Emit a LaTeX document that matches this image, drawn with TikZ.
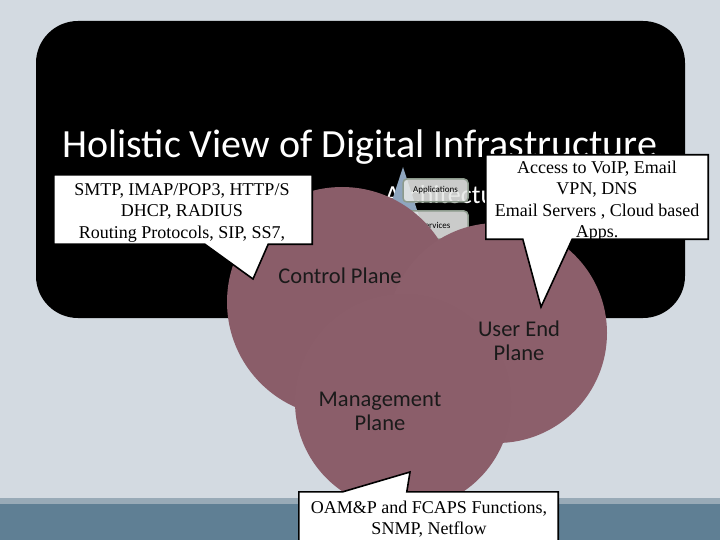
\documentclass[tikz,border=0pt]{standalone}
\usepackage{fontspec}
\setmainfont{Carlito}
\newfontfamily\tnr{Liberation Serif}
\definecolor{bgc}{HTML}{D3DAE1}
\definecolor{barc}{HTML}{5F7F94}
\definecolor{stripc}{HTML}{98AAB7}
\definecolor{cpc}{HTML}{8A5D69}
\definecolor{upc}{HTML}{8C5F6B}
\definecolor{mpc}{HTML}{8B5E6A}
\definecolor{tric}{HTML}{8FA6BF}
\definecolor{boxfill}{HTML}{E6E8E6}
\definecolor{boxdraw}{HTML}{8C9A8C}
\definecolor{lblc}{HTML}{1A1A1A}
\tikzset{
  plane/.style={circle, inner sep=0pt, minimum size=#1},
  lbl/.style={text=lblc, font=\fontsize{22.5}{23.5}\selectfont, align=center, inner sep=0pt},
  cbox/.style={rectangle, inner sep=0pt},
  callout/.style={fill=white, draw=black, line width=1.6pt, line join=miter},
  ctext/.style={font=\tnr\fontsize{18}{21.5}\selectfont, align=center, inner sep=0pt, text=black},
  smallbox/.style={rectangle, rounded corners=4pt, fill=boxfill, fill opacity=0.88, text opacity=1, draw=boxdraw, draw opacity=1, line width=1.5pt, inner sep=0pt, font=\fontsize{9}{10}\selectfont, text=black}
}
\begin{document}
\begin{tikzpicture}[x=1pt,y=-1pt]
\useasboundingbox (0,0) rectangle (720,540);
\fill[bgc] (0,0) rectangle (720,540);
% bottom bar
\fill[stripc] (0,498) rectangle (720,504);
\fill[barc] (0,504) rectangle (720,540);
% black panel
\fill[black, rounded corners=42pt] (36,21) rectangle (685,318);
% title
\node[anchor=base west, text=white, font=\fontsize{40}{48}\selectfont, inner sep=0pt] (title) at (62,158) {Holistic View of Digital Infrastructure};
\node[anchor=base west, text=white, font=\fontsize{26}{30}\selectfont, inner sep=0pt] (sub) at (385,204) {Architecture};
% hidden diagram pieces
\coordinate (ta) at (403,167);
\coordinate (tb) at (372,262);
\coordinate (tc) at (434,262);
\fill[tric] (ta) -- (tb) -- (tc) -- cycle;
\node[smallbox, minimum width=65pt, minimum height=23pt] (apps) at (435.5,190.5) {Applications};
\node[smallbox, minimum width=65pt, minimum height=28pt] (serv) at (435.5,225) {Services};
% planes
\node[plane=230pt, fill=cpc] (cp) at (342,302) {};
\node[plane=220pt, fill=upc] (up) at (497,333) {};
\node[plane=216pt, fill=mpc] (mp) at (403,402) {};
\node[lbl, anchor=base] (cpl) at (340,283) {Control Plane};
\node[lbl] (upl) at (519,341) {User End\\Plane};
\node[lbl] (mpl) at (380,411.5) {Management\\Plane};
% left callout
\node[cbox, minimum width=258pt, minimum height=69pt] (lcb) at (183,209.5) {};
\coordinate (lctip) at (253,279);
\path[callout] (lcb.north west) -- (lcb.north east) -- (lcb.south east) -- ([xshift=-44pt]lcb.south east) -- (lctip) -- ([xshift=151pt]lcb.south west) -- (lcb.south west) -- cycle;
\node[ctext] (lct) at (182,212.8) {SMTP, IMAP/POP3, HTTP/S\\DHCP, RADIUS\\Routing Protocols, SIP, SS7,};
% right callout
\node[cbox, minimum width=222pt, minimum height=84pt] (rcb) at (597,197) {};
\coordinate (rctip) at (541,307);
\path[callout] (rcb.north west) -- (rcb.north east) -- (rcb.south east) -- ([xshift=-136pt]rcb.south east) -- (rctip) -- ([xshift=37pt]rcb.south west) -- (rcb.south west) -- cycle;
\node[ctext] (rct) at (597,201) {Access to VoIP, Email\\VPN, DNS\\Email Servers , Cloud based\\Apps.};
% bottom callout
\node[cbox, minimum width=259pt, minimum height=60pt] (bcb) at (428.5,522) {};
\coordinate (bctip) at (410,472);
\path[callout] (bcb.north west) -- ([xshift=44pt]bcb.north west) -- (bctip) -- ([xshift=108pt]bcb.north west) -- (bcb.north east) -- (bcb.south east) -- (bcb.south west) -- cycle;
\node[ctext] (bct) at (429,518.9) {OAM\&P and FCAPS Functions,\\SNMP, Netflow};
\end{tikzpicture}
\end{document}
